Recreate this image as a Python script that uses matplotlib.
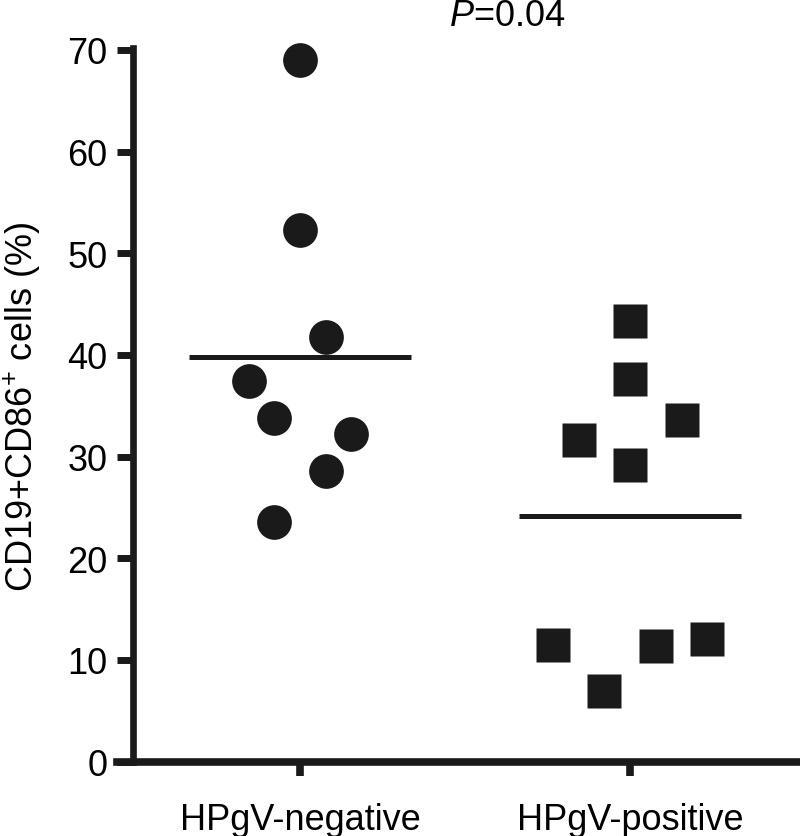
import numpy as np
import matplotlib
matplotlib.use("Agg")
import matplotlib.pyplot as plt

plt.rcParams['font.family'] = ['Liberation Sans', 'DejaVu Sans']
plt.rcParams['mathtext.fontset'] = 'custom'
plt.rcParams['mathtext.rm'] = 'Liberation Sans'
plt.rcParams['mathtext.it'] = 'Liberation Sans:italic'

# data
groups = ['HPgV-negative', 'HPgV-positive']
neg_values = [69.0, 52.3, 41.8, 37.4, 33.8, 32.2, 28.6, 23.6]
neg_offsets = [0, 0, 1, -2, -1, 2, 1, -1]          # jitter columns
pos_values = [43.3, 37.6, 33.6, 31.6, 29.2, 11.5, 6.9, 11.4, 12.1]
pos_offsets = [0, 0, 2, -2, 0, -3, -1, 1, 3]
y_ticks = [0, 10, 20, 30, 40, 50, 60, 70]
p_text = '$P$=0.04'

ink = '#1a1a1a'
step = 0.078   # jitter step in category units
half = 0.335   # half width of the mean line

fig = plt.figure(figsize=(8, 8.37), dpi=100)
ax = fig.add_axes([117 / 800, 74.5 / 837, 683 / 800, 711.5 / 837])

x_neg = 0 + np.array(neg_offsets) * step
x_pos = 1 + np.array(pos_offsets) * step
ax.plot(x_neg, neg_values, 'o', ms=25, color=ink, mec='none', clip_on=False)
ax.plot(x_pos, pos_values, 's', ms=25, color=ink, mec='none', clip_on=False)

for i, vals in enumerate([neg_values, pos_values]):
    m = np.mean(vals)
    ax.plot([i - half, i + half], [m, m], color=ink, lw=3.6, solid_capstyle='butt')

ax.set_xlim(-0.5545, 1.515)
ax.set_ylim(0, 70)
ax.set_xticks([0, 1])
ax.set_xticklabels(groups)
ax.set_yticks(y_ticks)

for s in ['top', 'right']:
    ax.spines[s].set_visible(False)
ax.spines['left'].set_position(('axes', 16 / 683))
ax.spines['left'].set_linewidth(4.8)
ax.spines['left'].set_bounds(0, 70.2)
ax.spines['bottom'].set_linewidth(5.5)
ax.spines['left'].set_color(ink)
ax.spines['bottom'].set_color(ink)

ax.tick_params(axis='y', length=11.5, width=5, color=ink, labelsize=26, pad=7)
ax.tick_params(axis='x', length=10, width=5.5, color=ink, labelsize=26, pad=19)

ax.set_ylabel('CD19+CD86$^{+}$ cells (%)', fontsize=26, labelpad=10)
ax.yaxis.set_label_coords(-74 / 683, 0.5)

fig.text(507 / 800, 1 - 26 / 837, p_text, fontsize=26, ha='center', va='baseline')

fig.savefig('out.png', dpi=100)
